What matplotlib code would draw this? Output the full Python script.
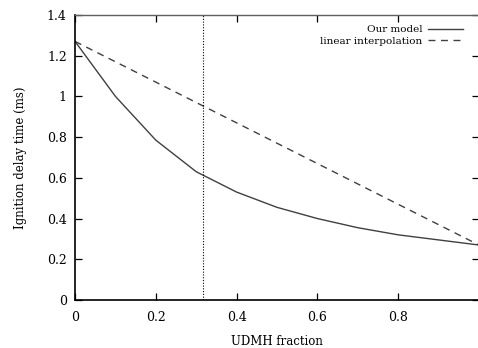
import matplotlib
matplotlib.use("Agg")
import matplotlib.pyplot as plt

# UDMH fraction and ignition delay (ms)
frac = [0.0, 0.1, 0.2, 0.3, 0.4, 0.5, 0.6, 0.7, 0.8, 0.9, 1.0]
model = [1.27, 1.0, 0.785, 0.63, 0.53, 0.455, 0.40, 0.355, 0.32, 0.295, 0.27]
lin_x = [0.0, 1.0]
lin_y = [1.27, 0.27]
marker_x = 0.316

xticks = [0, 0.2, 0.4, 0.6, 0.8]
xtick_labels = ["0", "0.2", "0.4", "0.6", "0.8"]
yticks = [0, 0.2, 0.4, 0.6, 0.8, 1.0, 1.2, 1.4]
ytick_labels = ["0", "0.2", "0.4", "0.6", "0.8", "1", "1.2", "1.4"]

plt.rcParams['font.family'] = ['DejaVu Serif']

fig = plt.figure(figsize=(4.78, 3.48), dpi=100)
ax = fig.add_axes([0.157, 0.138, 0.845, 0.819])

ax.plot(frac, model, color='#404040', lw=1.0, label='Our model')
ax.plot(lin_x, lin_y, color='#404040', lw=1.0, ls=(0, (5, 4)), label='linear interpolation')
ax.axvline(marker_x, color='black', lw=0.8, ls=(0, (1, 1.5)))

ax.set_xlim(0, 1)
ax.set_ylim(0, 1.4)
ax.set_xticks(xticks)
ax.set_xticklabels(xtick_labels)
ax.set_yticks(yticks)
ax.set_yticklabels(ytick_labels)
ax.tick_params(direction='in', length=5, width=0.9, top=True, right=True,
               labelsize=9, pad=8, colors='black')
ax.tick_params(axis='y', pad=6)

for s in ['left', 'bottom']:
    ax.spines[s].set_linewidth(1.2)
ax.spines['top'].set_color('#606060')
ax.spines['top'].set_linewidth(1.0)
ax.spines['right'].set_visible(False)

ax.set_xlabel('UDMH fraction', fontsize=8.5, labelpad=8)
ax.set_ylabel('Ignition delay time (ms)', fontsize=8.5, labelpad=14)

leg = ax.legend(loc='upper right', bbox_to_anchor=(0.978, 0.99), frameon=False,
                markerfirst=False, fontsize=7.5, handlelength=3.3,
                handletextpad=0.6, labelspacing=0.2, borderpad=0.2)

fig.savefig('out.png', dpi=100)
